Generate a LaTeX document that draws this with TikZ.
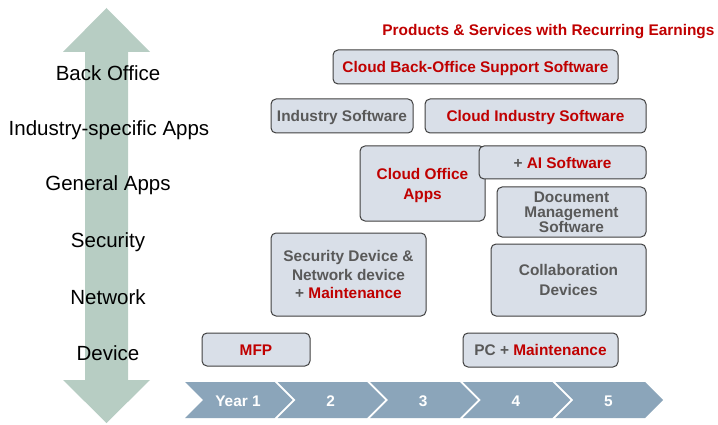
\documentclass[tikz,border=0pt]{standalone}
\usepackage{fontspec}
\setmainfont{Liberation Sans}
\usetikzlibrary{positioning}
\definecolor{sage}{RGB}{183,205,195}
\definecolor{steel}{RGB}{139,165,186}
\definecolor{boxfill}{RGB}{217,223,232}
\definecolor{boxline}{RGB}{64,64,64}
\definecolor{darkred}{RGB}{192,0,0}
\definecolor{greytext}{RGB}{89,89,89}
\newcommand{\rd}[1]{\textcolor{darkred}{#1}}

\begin{document}
\begin{tikzpicture}[x=1pt, y=-1pt,
  layer/.style={font=\fontsize{20.5}{22}\selectfont, text=black},
  prodbox/.style={draw=boxline, fill=boxfill, rounded corners=5pt, line width=1pt, align=center, inner sep=0pt,
    font=\fontsize{15.4}{18.5}\selectfont\bfseries, text=greytext},
  oneline/.style={text height=11pt, text depth=0pt},
  yearlbl/.style={font=\fontsize{15.4}{18}\selectfont\bfseries, text=white, oneline}]
\useasboundingbox (0,0) rectangle (718,425);

% layer axis
\fill[sage] (106.5,8) -- (150,52) -- (128,52) -- (128,380) -- (150,380) -- (106.5,423)
  -- (63,380) -- (85,380) -- (85,52) -- (63,52) -- cycle;
\node[layer] (L1) at (108,73) {Back Office};
\node[layer] (L2) at (109,130) {Industry-specific Apps};
\node[layer] (L3) at (108,185) {General Apps};
\node[layer] (L4) at (108,242) {Security};
\node[layer] (L5) at (108,297) {Network};
\node[layer] (L6) at (108,353) {Device};

% title
\node[anchor=east, oneline, font=\fontsize{15.4}{18}\selectfont\bfseries, text=darkred] (title) at (718,30)
  {Products \& Services with Recurring Earnings};

% products
\node[prodbox, oneline, minimum width=285, minimum height=34] (backoff) at (475.5,67) {\rd{Cloud Back-Office Support Software}};
\node[prodbox, oneline, minimum width=142, minimum height=34] (indsw) at (342,116) {Industry Software};
\node[prodbox, oneline, minimum width=221, minimum height=34] (cloudind) at (535.5,116) {\rd{Cloud Industry Software}};
\node[prodbox, minimum width=125, minimum height=75, text depth=0pt, font=\fontsize{15.4}{20}\selectfont\bfseries] (cloudoff) at (422.5,183.5) {\rd{Cloud Office}\\\rd{Apps}};
\node[prodbox, oneline, minimum width=167, minimum height=33] (aisw) at (562.5,162.5) {+ \rd{AI Software}};
\node[prodbox, minimum width=149, minimum height=50, font=\fontsize{15.4}{15}\selectfont\bfseries] (docmgmt) at (571.5,212) {Document\\Management\\Software};
\node[prodbox, minimum width=155, minimum height=83] (secdev) at (348.5,274.5) {Security Device \&\\Network device\\+ \rd{Maintenance}};
\node[prodbox, minimum width=155, minimum height=72, text depth=0pt, font=\fontsize{15.4}{19.5}\selectfont\bfseries] (collab) at (568.5,280) {Collaboration\\Devices};
\node[prodbox, oneline, minimum width=108, minimum height=33] (mfp) at (256,349.5) {\rd{MFP}};
\node[prodbox, oneline, minimum width=155, minimum height=34] (pc) at (540.5,350) {PC + \rd{Maintenance}};

% timeline
\foreach \i/\lab in {0/Year 1, 1/2, 2/3, 3/4, 4/5}{
  \pgfmathsetmacro{\xa}{185+92.6*\i}
  \fill[steel] (\xa,382) -- ++(89.6,0) -- ++(18,18) -- ++(-18,18) -- ++(-89.6,0) -- ++(18,-18) -- cycle;
  \node[yearlbl] (yr\i) at (\xa+53,400.5) {\lab};
}
\end{tikzpicture}
\end{document}
